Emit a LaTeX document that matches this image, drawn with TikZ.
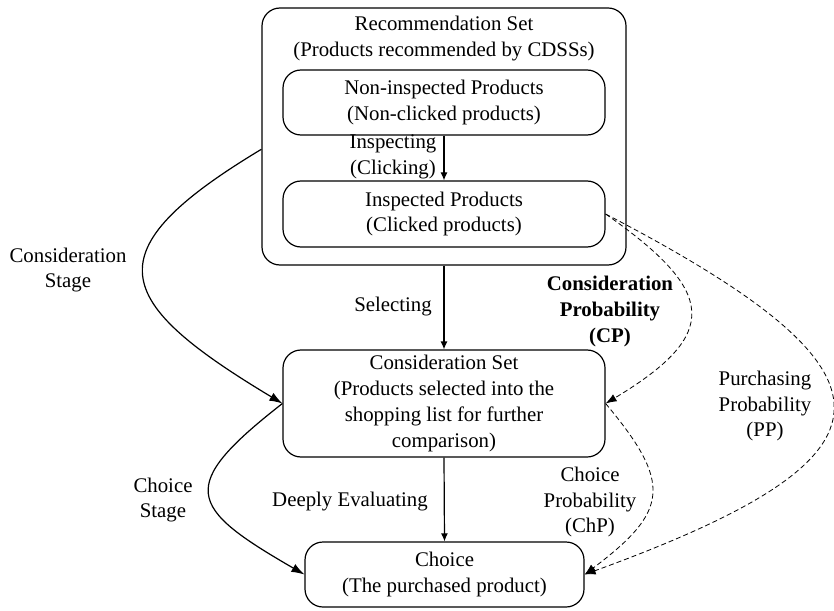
\documentclass[tikz,border=0pt]{standalone}
\usepackage{fontspec}
\setmainfont{Liberation Serif}
\usetikzlibrary{arrows.meta}

\begin{document}
\begin{tikzpicture}[x=1bp,y=-1bp,
   every node/.style={font=\fontsize{20.9}{26}\selectfont},
   box/.style={draw,line width=1.2bp,rounded corners=18bp,align=center,inner sep=0pt},
   lbl/.style={align=center},
   boldlbl/.style={align=center,font=\fontsize{20.9}{26}\selectfont\bfseries},
   flow/.style={-{Latex[length=8bp,width=7bp]},line width=1.2bp},
   stage/.style={-{Latex[length=13bp,width=9bp]},line width=1.2bp},
   prob/.style={-{Latex[length=11bp,width=8bp]},line width=0.8bp,dash pattern=on 5bp off 3bp}]
      \useasboundingbox (0,0) rectangle (834,611);
      % boxes
      \node[box,minimum width=364bp,minimum height=257bp] (recset) at (444,136.5) {};
      \node[lbl] (rectxt) at (444,38.5) {Recommendation Set\\(Products recommended by CDSSs)};
      \node[box,minimum width=322bp,minimum height=65bp] (noninsp) at (444,102.5) {Non-inspected Products\\(Non-clicked products)};
      \node[box,minimum width=322bp,minimum height=66bp] (insp) at (444,214) {Inspected Products\\(Clicked products)};
      \node[box,minimum width=322bp,minimum height=107bp] (conset) at (444,403.5) {Consideration Set\\(Products selected into the\\shopping list for further\\comparison)};
      \node[box,minimum width=279bp,minimum height=65bp] (choice) at (444.5,574.5) {Choice\\(The purchased product)};

      % labels
      \node[lbl] (inspecting) at (393,156.5) {Inspecting\\(Clicking)};
      \node[lbl] (selecting) at (393,307) {Selecting};
      \node[lbl] (evaluating) at (350,502) {Deeply Evaluating};
      \node[lbl] (consstage) at (68,270) {Consideration\\Stage};
      \node[lbl] (choicestage) at (163,500) {Choice\\Stage};
      \node[boldlbl] (cplbl) at (610,311.5) {Consideration\\Probability\\(CP)};
      \node[lbl] (chplbl) at (590,502) {Choice\\Probability\\(ChP)};
      \node[lbl] (pplbl) at (765,406) {Purchasing\\Probability\\(PP)};

      \draw[flow] (noninsp.south) -- (insp.north);
      \draw[flow] (recset.south) -- (conset.north);
      \draw[flow] (conset.south) -- (choice.north);
      \draw[stage] (recset.184) to[out=211,in=149,looseness=2] (conset.west);
      \draw[stage] (conset.west) to[out=218,in=150,looseness=2] (choice.west);
      \draw[prob] (insp.east) to[out=-35,in=31,looseness=1.83] (conset.east);
      \draw[prob] (insp.east) to[out=-27.5,in=20,looseness=2.46] (choice.east);
      \draw[prob] (conset.east) to[out=-50,in=37,looseness=1.56] (choice.east);
   \end{tikzpicture}
\end{document}
